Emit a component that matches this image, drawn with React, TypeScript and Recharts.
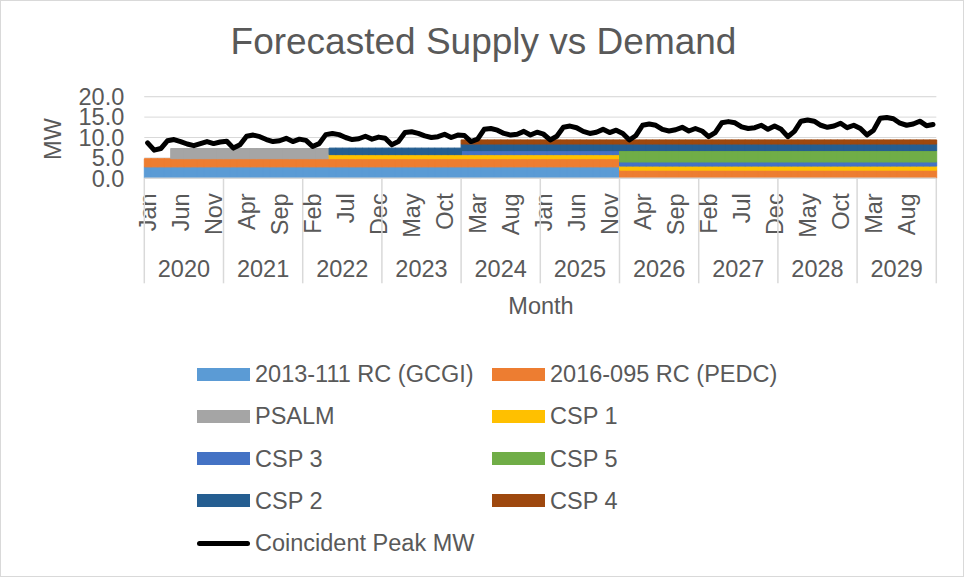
import { ComposedChart, Bar, Line, XAxis, YAxis, CartesianGrid } from 'recharts'

const years = [2020, 2021, 2022, 2023, 2024, 2025, 2026, 2027, 2028, 2029]
const monthNames = ['Jan', 'Feb', 'Mar', 'Apr', 'May', 'Jun', 'Jul', 'Aug', 'Sep', 'Oct', 'Nov', 'Dec']

// supply resources, in stacking order (bottom first)
const seriesNames = ['2013-111 RC (GCGI)', '2016-095 RC (PEDC)', 'PSALM', 'CSP 1', 'CSP 3', 'CSP 5', 'CSP 2', 'CSP 4']
const seriesMW = [2.8, 2.0, 2.5, 1.0, 1.0, 2.8, 1.6, 1.0]
const seriesFrom = ['2020-01', '2020-01', '2020-05', '2022-05', '2024-01', '2026-01', '2022-05', '2024-01']
const seriesTo = ['2025-12', '2029-12', '2022-04', '2029-12', '2029-12', '2029-12', '2029-12', '2029-12']
const seriesColors = ['#5B9BD5', '#ED7D31', '#A5A5A5', '#FFC000', '#4472C4', '#70AD47', '#255E91', '#9E480E']

const peakName = 'Coincident Peak MW'
const peakMW = [
  8.7, 6.9, 7.3, 9.2, 9.5, 9.0, 8.4, 8.0, 8.5, 9.0, 8.5, 8.9,
  9.1, 7.4, 8.2, 10.3, 10.6, 10.2, 9.5, 9.0, 9.2, 9.8, 9.0, 9.6,
  9.3, 7.8, 8.5, 10.7, 11.0, 10.7, 10.0, 9.5, 9.7, 10.3, 9.6, 10.1,
  9.8, 8.2, 9.0, 11.2, 11.4, 11.0, 10.4, 10.0, 10.2, 10.8, 10.0, 10.6,
  10.5, 9.0, 9.6, 12.0, 12.2, 11.8, 11.0, 10.6, 10.8, 11.5, 10.6, 11.3,
  10.8, 9.4, 10.3, 12.5, 12.8, 12.4, 11.5, 11.0, 11.3, 12.0, 11.2, 11.8,
  11.0, 9.4, 10.5, 13.0, 13.3, 13.0, 12.0, 11.6, 11.9, 12.5, 11.6, 12.2,
  11.6, 10.2, 11.2, 13.6, 13.9, 13.6, 12.6, 12.2, 12.4, 13.0, 12.0, 12.8,
  12.0, 10.2, 11.5, 14.0, 14.3, 14.0, 13.0, 12.5, 12.8, 13.5, 12.4, 13.0,
  12.2, 10.6, 11.8, 14.7, 14.9, 14.6, 13.5, 13.0, 13.3, 14.0, 12.9, 13.2,
]

const yTicks = [0, 5, 10, 15, 20]
const minorTicks = [0, 1, 2, 3, 4, 5, 6, 7, 8, 9, 10, 11, 12, 13, 14, 15, 16, 17, 18, 19, 20]

const data = years.flatMap((yr, yi) =>
  monthNames.map((m, mi) => {
    const key = `${yr}-${String(mi + 1).padStart(2, '0')}`
    const row: Record<string, any> = { key, year: yr, month: m, peak: peakMW[yi * 12 + mi] }
    seriesNames.forEach((_, s) => {
      row[`s${s}`] = key >= seriesFrom[s] && key <= seriesTo[s] ? seriesMW[s] : 0
    })
    return row
  })
)

const FONT = '"Liberation Sans", Arial, sans-serif'
const TEXT = '#595959'
const GRID = '#d9d9d9'

function MonthTick(props: any) {
  const { x, y, payload } = props
  const i = payload.index
  const half = payload.offset || 3.3
  const row = data[i]
  const parts = []
  if (i % 5 === 0) {
    parts.push(
      <text key="m" x={x} y={y + 15} dy={8} transform={`rotate(-90 ${x} ${y + 15})`}
        textAnchor="end" fontSize={23.5} fill={TEXT} fontFamily={FONT}>{row.month}</text>
    )
  }
  if (i % 12 === 0) {
    parts.push(<line key="sep" x1={x - half} x2={x - half} y1={y} y2={y + 105} stroke={GRID} strokeWidth={1.5} />)
    parts.push(
      <text key="yr" x={x + 11 * half} y={y + 99} textAnchor="middle" fontSize={23.5} fill={TEXT} fontFamily={FONT}>{row.year}</text>
    )
  }
  if (i === data.length - 1) {
    parts.push(<line key="end" x1={x + half} x2={x + half} y1={y} y2={y + 105} stroke={GRID} strokeWidth={1.5} />)
  }
  return <g>{parts}</g>
}

const legendItems = [
  ...seriesNames.map((name, s) => ({ name, color: seriesColors[s], line: false })),
  { name: peakName, color: '#000000', line: true },
]

export default function App() {
  return (
    <div style={{ position: 'absolute', left: 0, top: 0, width: 964, height: 577, border: '1px solid #d9d9d9', boxSizing: 'border-box', background: '#fff', fontFamily: FONT, color: TEXT }}>
      <div style={{ position: 'absolute', left: 0, top: 22, width: 965, textAlign: 'center', fontSize: 37, lineHeight: '37px' }}>
        Forecasted Supply vs Demand
      </div>
      <div style={{ position: 'absolute', left: 53, top: 138, transform: 'translate(-50%, -50%) rotate(-90deg)', fontSize: 23.5, lineHeight: '23.5px', whiteSpace: 'nowrap' }}>
        MW
      </div>
      <div style={{ position: 'absolute', left: 0, top: 291, width: 1080, textAlign: 'center', fontSize: 23.5, lineHeight: '28px' }}>
        Month
      </div>
      <div style={{ position: 'absolute', left: -1, top: -1 }}>
        <ComposedChart width={965} height={578} data={data} barCategoryGap={0} barGap={0}
          margin={{ top: 96.7, right: 28.7, bottom: 279.7, left: 84.3 }}>
          <CartesianGrid yAxisId="minor" vertical={false} stroke="#ececec" strokeWidth={1} />
          <CartesianGrid vertical={false} stroke={GRID} strokeWidth={1} />
          <XAxis dataKey="key" interval={0} height={120} tickSize={0} tickMargin={0} tickLine={false}
            axisLine={{ stroke: GRID, strokeWidth: 1.5 }} tick={(p: any) => <MonthTick {...p} />} />
          <YAxis width={60} domain={[0, 20]} ticks={yTicks} interval={0} axisLine={false} tickLine={false} tickSize={6} tickMargin={14}
            tickFormatter={(v: number) => v.toFixed(1)} tick={{ fontSize: 23.5, fill: TEXT, fontFamily: FONT }} />
          <YAxis yAxisId="minor" hide domain={[0, 20]} ticks={minorTicks} interval={0} />
          {seriesNames.map((name, s) => (
            <Bar key={name} name={name} dataKey={`s${s}`} stackId="supply" fill={seriesColors[s]}
              stroke={seriesColors[s]} strokeWidth={1} isAnimationActive={false} />
          ))}
          <Line name={peakName} dataKey="peak" type="linear" stroke="#000" strokeWidth={5} dot={false}
            strokeLinejoin="round" strokeLinecap="round" isAnimationActive={false} />
        </ComposedChart>
      </div>
      {legendItems.map((item, idx) => {
        const left = idx % 2 === 0 ? 196 : 491
        const cy = 373 + Math.floor(idx / 2) * 42.3
        return (
          <div key={item.name} style={{ position: 'absolute', left, top: cy - 14, height: 28, display: 'flex', alignItems: 'center', whiteSpace: 'nowrap' }}>
            {item.line ? (
              <div style={{ width: 53, height: 5, borderRadius: 3, background: item.color }} />
            ) : (
              <div style={{ width: 53, height: 13, background: item.color }} />
            )}
            <span style={{ marginLeft: 5, fontSize: 23.5, lineHeight: '28px' }}>{item.name}</span>
          </div>
        )
      })}
    </div>
  )
}
